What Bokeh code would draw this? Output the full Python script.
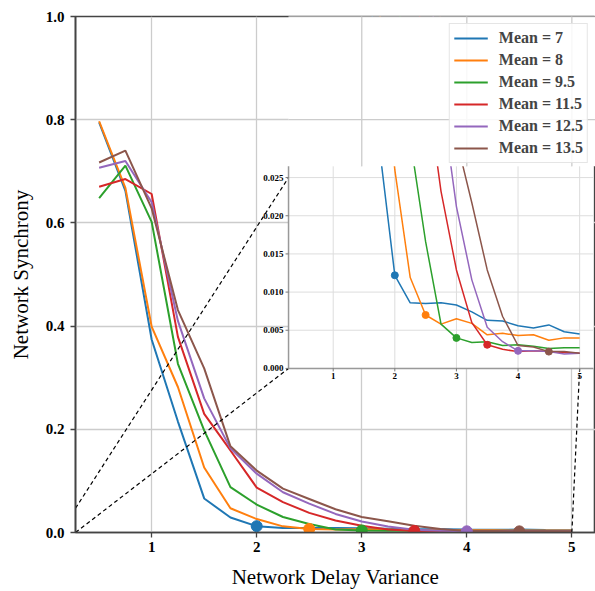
from bokeh.plotting import figure
from bokeh.models import Range1d, FixedTicker, Legend, LegendItem
from bokeh.core.properties import value
from bokeh.embed import file_html
from bokeh.resources import INLINE

# ---------------- data ----------------
delay_variance = [0.5, 0.75, 1.0, 1.25, 1.5, 1.75, 2.0, 2.25, 2.5, 2.75,
                  3.0, 3.25, 3.5, 3.75, 4.0, 4.25, 4.5, 4.75, 5.0]
series_names = ["Mean = 7", "Mean = 8", "Mean = 9.5", "Mean = 11.5", "Mean = 12.5", "Mean = 13.5"]
mean_7 = [0.795, 0.662, 0.374, 0.215, 0.066, 0.029, 0.0122, 0.0086, 0.0085, 0.0086,
          0.0083, 0.0074, 0.0063, 0.0062, 0.0056, 0.0053, 0.0057, 0.0048, 0.0045]
mean_8 = [0.797, 0.668, 0.399, 0.282, 0.126, 0.047, 0.026, 0.0119, 0.0070, 0.0058,
          0.0065, 0.0059, 0.0044, 0.0046, 0.0043, 0.0044, 0.0037, 0.0040, 0.0040]
mean_9_5 = [0.648, 0.711, 0.602, 0.327, 0.198, 0.088, 0.054, 0.030, 0.0166, 0.0058,
            0.0040, 0.0034, 0.0035, 0.0030, 0.0031, 0.0029, 0.0026, 0.0027, 0.0027]
mean_11_5 = [0.670, 0.685, 0.656, 0.379, 0.230, 0.159, 0.087, 0.059, 0.038, 0.0232,
             0.0129, 0.0060, 0.0031, 0.0025, 0.0022, 0.0023, 0.0022, 0.0021, 0.0020]
mean_12_5 = [0.707, 0.720, 0.640, 0.410, 0.260, 0.163, 0.114, 0.078, 0.056, 0.036,
             0.0212, 0.0116, 0.0054, 0.0035, 0.0023, 0.0023, 0.0022, 0.0019, 0.0020]
mean_13_5 = [0.717, 0.740, 0.628, 0.431, 0.318, 0.167, 0.120, 0.085, 0.065, 0.045,
             0.030, 0.0217, 0.0129, 0.0068, 0.0030, 0.0028, 0.0022, 0.0022, 0.0020]
marker_x = [2.0, 2.5, 3.0, 3.5, 4.0, 4.5]

x_ticks = [1, 2, 3, 4, 5]
x_tick_labels = ["1", "2", "3", "4", "5"]
y_ticks = [0, 0.2, 0.4, 0.6, 0.8, 1.0]
y_tick_labels = ["0.0", "0.2", "0.4", "0.6", "0.8", "1.0"]
inset_y_ticks = [0, 0.005, 0.01, 0.015, 0.02, 0.025]
inset_y_tick_labels = ["0.000", "0.005", "0.010", "0.015", "0.020", "0.025"]

colors = ["#1f77b4", "#ff7f0e", "#2ca02c", "#d62728", "#9467bd", "#8c564b"]
all_series = [mean_7, mean_8, mean_9_5, mean_11_5, mean_12_5, mean_13_5]

# ---------------- layout constants ----------------
X_RANGE = (0.275, 5.225)
Y_RANGE = (0.0, 1.0)
INSET_Y_RANGE = (0.0, 0.0265)
INSET_X = (2.303, 5.206)      # inset box in main-data coordinates
INSET_Y = (0.318, 0.710)
ZOOM_TOP_MAIN = 0.047

W, H = 595, 591
BL, BR, BT, BB = 75, 0, 16, 59
FW, FH = W - BL - BR, H - BT - BB
px_x = FW / (X_RANGE[1] - X_RANGE[0])
px_y = FH / (Y_RANGE[1] - Y_RANGE[0])
ipx_y = (INSET_Y[1] - INSET_Y[0]) * px_y / (INSET_Y_RANGE[1] - INSET_Y_RANGE[0])
ipx_x = (INSET_X[1] - INSET_X[0]) * px_x / (X_RANGE[1] - X_RANGE[0])

SERIF = "Liberation Serif"
AX = "#444444"
GRID = "#cccccc"
GRID_W = 1.3

p = figure(width=W, height=H, x_range=Range1d(*X_RANGE), y_range=Range1d(*Y_RANGE),
           output_backend="svg", toolbar_location=None,
           min_border_left=BL, min_border_right=BR, min_border_top=BT, min_border_bottom=BB)
p.background_fill_color = "white"
p.border_fill_color = "white"
p.outline_line_color = AX
p.outline_line_width = 1.6

for ax in (p.xaxis[0], p.yaxis[0]):
    ax.axis_line_color = AX
    ax.axis_line_width = 1.6
    ax.major_tick_line_color = AX
    ax.major_tick_line_width = 1.3
    ax.major_tick_out = 5
    ax.major_tick_in = 0
    ax.minor_tick_line_color = None
    ax.major_label_text_font = SERIF
    ax.major_label_text_font_style = "bold"
    ax.major_label_text_font_size = "15px"
    ax.major_label_text_color = "black"
    ax.axis_label_text_font = SERIF
    ax.axis_label_text_font_style = "normal"
    ax.axis_label_text_font_size = "21px"
    ax.axis_label_text_color = "black"

p.xaxis.ticker = FixedTicker(ticks=x_ticks)
p.xaxis.major_label_overrides = dict(zip(x_ticks, x_tick_labels))
p.yaxis.ticker = FixedTicker(ticks=y_ticks)
p.yaxis.major_label_overrides = dict(zip(y_ticks, y_tick_labels))
p.xaxis.axis_label = "Network Delay Variance"
p.yaxis.axis_label = "Network Synchrony"
p.xaxis.major_label_standoff = 4
p.xaxis.axis_label_standoff = 10
p.yaxis.major_label_standoff = 6
p.yaxis.axis_label_standoff = 10
p.grid.grid_line_color = GRID
p.grid.grid_line_width = GRID_W

items = []
for name, ys, c in zip(series_names, all_series, colors):
    r = p.line(delay_variance, ys, line_color=c, line_width=2)
    items.append(LegendItem(label=name, renderers=[r]))
for mx, ys, c in zip(marker_x, all_series, colors):
    my = ys[delay_variance.index(mx)]
    p.scatter([mx], [my], size=11, fill_color=c, line_color=c)

# ---------------- connector lines ----------------
def inset_to_main(x, y):
    mx = INSET_X[0] + (x - X_RANGE[0]) / (X_RANGE[1] - X_RANGE[0]) * (INSET_X[1] - INSET_X[0])
    my = INSET_Y[0] + (y - INSET_Y_RANGE[0]) / (INSET_Y_RANGE[1] - INSET_Y_RANGE[0]) * (INSET_Y[1] - INSET_Y[0])
    return mx, my

e1 = inset_to_main(X_RANGE[0], 0.0)
e2 = inset_to_main(X_RANGE[0], inset_y_ticks[-1])
e3 = inset_to_main(x_ticks[-1], 0.0)
p.segment(x0=[X_RANGE[0], X_RANGE[0], x_ticks[-1]], y0=[0.0, ZOOM_TOP_MAIN, 0.0],
          x1=[e1[0], e2[0], e3[0]], y1=[e1[1], e2[1], e3[1]],
          line_color="black", line_width=1.2, line_dash="4 3")

# ---------------- inset (sub-coordinates) ----------------
sub = p.subplot(x_source=Range1d(*X_RANGE), y_source=Range1d(*INSET_Y_RANGE),
                x_target=Range1d(*INSET_X), y_target=Range1d(*INSET_Y))
sub.quad(left=[X_RANGE[0]], right=[X_RANGE[1]], bottom=[INSET_Y_RANGE[0]], top=[INSET_Y_RANGE[1]],
         fill_color="white", line_color=None)
sub.segment(x0=x_ticks, x1=x_ticks, y0=[INSET_Y_RANGE[0]] * len(x_ticks), y1=[INSET_Y_RANGE[1]] * len(x_ticks),
            line_color="#dddddd", line_width=1)
sub.segment(x0=[X_RANGE[0]] * len(inset_y_ticks), x1=[X_RANGE[1]] * len(inset_y_ticks),
            y0=inset_y_ticks, y1=inset_y_ticks, line_color="#dddddd", line_width=1)
for ys, c in zip(all_series, colors):
    sub.line(delay_variance, ys, line_color=c, line_width=1.5)
for mx, ys, c in zip(marker_x, all_series, colors):
    my = ys[delay_variance.index(mx)]
    sub.scatter([mx], [my], size=7, fill_color=c, line_color=c)

# mask for the part of the inset curves that leaves the inset box; main grid redrawn on top
p.quad(left=[INSET_X[0]], right=[X_RANGE[1]], bottom=[INSET_Y[1]], top=[Y_RANGE[1]],
       fill_color="white", line_color=None)
vx = [t for t in x_ticks if INSET_X[0] <= t <= X_RANGE[1]]
p.segment(x0=vx, x1=vx, y0=[INSET_Y[1]] * len(vx), y1=[Y_RANGE[1]] * len(vx),
          line_color=GRID, line_width=GRID_W)
hy = [t for t in y_ticks if t >= INSET_Y[1]]
p.segment(x0=[INSET_X[0]] * len(hy), x1=[X_RANGE[1]] * len(hy), y0=hy, y1=hy,
          line_color=GRID, line_width=GRID_W)

# inset axes: spines, ticks, labels
SPINE = "#999999"
sub.segment(x0=[X_RANGE[0], X_RANGE[0]], y0=[INSET_Y_RANGE[0], INSET_Y_RANGE[0]],
            x1=[X_RANGE[0], X_RANGE[1]], y1=[INSET_Y_RANGE[1], INSET_Y_RANGE[0]],
            line_color=SPINE, line_width=1.5)
tick_dy = 3 / ipx_y
tick_dx = 3 / ipx_x
sub.segment(x0=x_ticks, x1=x_ticks, y0=[INSET_Y_RANGE[0]] * len(x_ticks),
            y1=[INSET_Y_RANGE[0] - tick_dy] * len(x_ticks), line_color="#777777", line_width=1)
sub.segment(x0=[X_RANGE[0]] * len(inset_y_ticks), x1=[X_RANGE[0] - tick_dx] * len(inset_y_ticks),
            y0=inset_y_ticks, y1=inset_y_ticks, line_color="#777777", line_width=1)
sub.text(x=x_ticks, y=[INSET_Y_RANGE[0]] * len(x_ticks), text=x_tick_labels, y_offset=5,
         text_align="center", text_baseline="top", text_font=value(SERIF),
         text_font_style="bold", text_font_size="9px", text_color="black")
sub.text(x=[X_RANGE[0]] * len(inset_y_ticks), y=inset_y_ticks, text=inset_y_tick_labels, x_offset=-5,
         text_align="right", text_baseline="middle", text_font=value(SERIF),
         text_font_style="bold", text_font_size="9px", text_color="black")

legend = Legend(items=items, location="top_right", margin=7, padding=4, spacing=2,
                label_height=20, glyph_height=20, glyph_width=34, label_standoff=11,
                label_text_font=SERIF, label_text_font_style="bold", label_text_font_size="16px",
                border_line_color="#cccccc", border_line_width=1,
                background_fill_color="white", background_fill_alpha=0.85)
p.add_layout(legend)

open("out.html", "w").write(file_html(p, INLINE))
